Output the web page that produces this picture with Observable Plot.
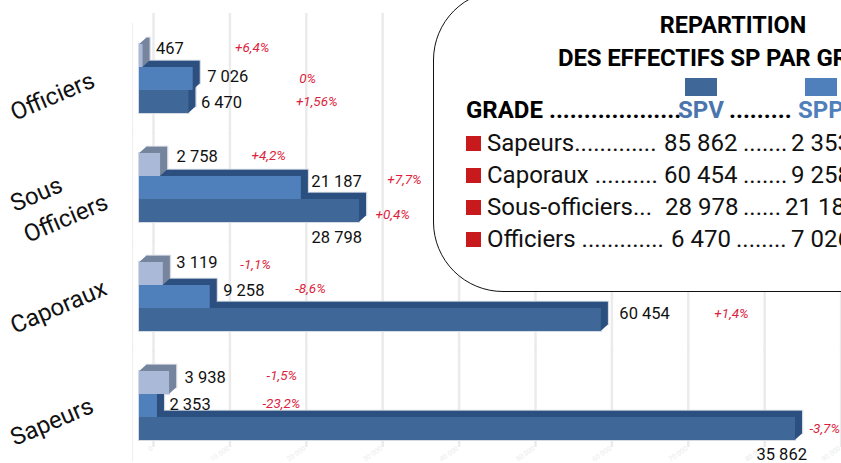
<!DOCTYPE html>
<html lang="fr"><head><meta charset="utf-8">
<script src="https://cdn.jsdelivr.net/npm/d3@7"></script>
<script src="https://cdn.jsdelivr.net/npm/@observablehq/plot@0.6"></script>
<style>
html,body{margin:0;padding:0;background:#fff;overflow:hidden;width:841px;height:463px}
#wrap{position:relative;width:841px;height:463px;overflow:hidden;font-family:Roboto,sans-serif}
#wrap svg{position:absolute;left:0;top:0}
#panel{position:absolute;left:433px;top:-10px;width:600px;height:300px;border:1.5px solid #111;border-radius:70px;background:#fff}
.t{position:absolute;white-space:pre;line-height:1}
.row{font-size:24px;color:#111}
.sq{position:absolute}
</style></head><body><div id="wrap"></div>
<script>
// ---- data ----
const categories = ["Officiers", "Sous Officiers", "Caporaux", "Sapeurs"];
const axisLabels = ["Officiers", "Sous\nOfficiers", "Caporaux", "Sapeurs"];
const seriesNames = ["Autres", "SPP", "SPV"];
const spv = [6470, 28798, 60454, 85862];
const spp = [7026, 21187, 9258, 2353];
const autres = [467, 2758, 3119, 3938];
const spvLabels = ["6 470", "28 798", "60 454", "35 862"];
const sppLabels = ["7 026", "21 187", "9 258", "2 353"];
const autresLabels = ["467", "2 758", "3 119", "3 938"];
const spvDeltas = ["+1,56%", "+0,4%", "+1,4%", "-3,7%"];
const sppDeltas = ["0%", "+7,7%", "-8,6%", "-23,2%"];
const autresDeltas = ["+6,4%", "+4,2%", "-1,1%", "-1,5%"];
const gridTicks = [0, 10000, 20000, 30000, 40000, 50000, 60000, 70000, 80000, 90000];
const titleLines = ["REPARTITION", "DES EFFECTIFS SP PAR GRADE"];
const tableHeader = ["GRADE ...................", "SPV", " ......... ", "SPP"];
const tableNames = ["Sapeurs.............", "Caporaux ..........", "Sous-officiers...", "Officiers ............."];
const tableSpv = ["85 862", "60 454", "28 978", "6 470"];
const tableSep = [".......", ".......", "......", "........"];
const tableSpp = ["2 353", "9 258", "21 187", "7 026"];

// ---- style / layout (kept apart from the data) ----
const colors = {SPV: "#3f6899", SPP: "#4f80bb", Autres: "#a9b9d7"};
const sideColors = {SPV: "#2d5180", SPP: "#2d5180", Autres: "#76859e"};
const red = "#dc1f3e";
const labelNudge = {
  SPV: [[12, 1], [-48, 27], [18, -6], [-39, 26]],
  SPP: [[14, -2], [10, -6], [13, -6], [12, -1]],
  Autres: [[13, -7], [16, -8], [13, -11], [15, -5]]
};
const deltaNudge = {
  SPV: [[107, 0], [16, 4], [113, -6], [14, 0]],
  SPP: [[106, 0], [86, -8], [85, -8], [105, -2]],
  Autres: [[92, -8], [91, -9], [77, -9], [97, -7]]
};
const axisNudge = [[5, 20], [5, 2], [5, 15], [5, 18]];
const colSpv = [664, 664, 665, 671];
const colSep = [743, 743, 743, 736];
const colSpp = [791, 791, 785, 791];

const valuesBy = {SPV: spv, SPP: spp, Autres: autres};
const labelsBy = {SPV: spvLabels, SPP: sppLabels, Autres: autresLabels};
const deltasBy = {SPV: spvDeltas, SPP: sppDeltas, Autres: autresDeltas};
const rows = seriesNames.flatMap(s => categories.map((c, i) => ({cat: c, i, s, v: valuesBy[s][i], label: labelsBy[s][i], delta: deltasBy[s][i]})));

const marks = [];
const gridSpan = [[-30, -20], [-20, -20], [-20, -20], [-20, -6]];
categories.forEach((c, i) => {
  marks.push(Plot.ruleX(gridTicks, {x: d => d, fy: () => c, dx: 14, stroke: "#ebebeb", strokeWidth: 2.5, insetTop: gridSpan[i][0], insetBottom: gridSpan[i][1]}));
  marks.push(Plot.ruleX([-900], {x: d => d, fy: () => c, stroke: "#eeeeee", strokeWidth: 1, insetTop: -20, insetBottom: -20}));
});
marks.push(Plot.text(gridTicks, {x: d => d, fy: () => "Sapeurs", frameAnchor: "bottom", text: d => d3.format(",")(d).replace(",", " "), dx: 14, dy: 8, rotate: -35, textAnchor: "end", fontSize: 7, fill: "#ececec"}));

// soft outline behind all bars
for (const s of ["SPV", "SPP", "Autres"]) {
  const data = rows.filter(d => d.s === s);
  marks.push(Plot.barX(data, {x: "v", y: "s", fy: "cat", dx: 7.5, dy: -6.5, fill: "none", stroke: "#d5dae3", strokeWidth: 1.5}));
  marks.push(Plot.barX(data, {x: "v", y: "s", fy: "cat", fill: "none", stroke: "#d5dae3", strokeWidth: 2}));
}
// 3D bars, painted from bottom to top of each group
for (const s of ["SPV", "SPP", "Autres"]) {
  const data = rows.filter(d => d.s === s);
  for (let k = 14; k >= 1; k--) {
    marks.push(Plot.barX(data, {x: "v", y: "s", fy: "cat", dx: k * 0.5, dy: -k * 0.45, fill: sideColors[s]}));
  }
  marks.push(Plot.barX(data, {x: "v", y: "s", fy: "cat", fill: colors[s]}));
}
rows.forEach(d => {
  const [dx, dy] = labelNudge[d.s][d.i];
  marks.push(Plot.text([d], {x: "v", y: "s", fy: "cat", text: "label", dx, dy, textAnchor: "start", fontSize: 16.5, fill: "#111"}));
  const [ddx, ddy] = deltaNudge[d.s][d.i];
  marks.push(Plot.text([d], {x: "v", y: "s", fy: "cat", text: "delta", dx: ddx, dy: ddy, textAnchor: "start", fontSize: 13.5, fontStyle: "italic", fill: red}));
});
categories.forEach((c, i) => {
  marks.push(Plot.text([axisLabels[i]], {fy: () => c, frameAnchor: "left", text: d => d, dx: axisNudge[i][0], dy: axisNudge[i][1], rotate: -23, textAnchor: "start", lineAnchor: "top", lineHeight: 1.4, fontSize: 24, fill: "#111"}));
});

const chart = Plot.plot({
  width: 841, height: 463,
  marginTop: 42, marginBottom: 22, marginLeft: 0, marginRight: 0,
  x: {domain: [0, 90000], range: [139, 826.6], axis: null},
  y: {domain: seriesNames, padding: 0, axis: null},
  fy: {domain: categories, paddingInner: 0.353, paddingOuter: 0, axis: null},
  style: {fontFamily: "Roboto, sans-serif", background: "transparent"},
  marks
});
const wrap = document.getElementById("wrap");
wrap.appendChild(chart);

const add = (cls, css, txt) => { const e = document.createElement("div"); e.className = cls; e.style.cssText = css; if (txt != null) e.textContent = txt; wrap.appendChild(e); return e; };
add("", "", null).id = "panel";
add("t", "left:733px;top:14px;transform:translateX(-50%);font-weight:700;font-size:23.4px;color:#000", titleLines[0]);
add("t", "left:558px;top:45.5px;font-weight:700;font-size:24px;letter-spacing:-0.15px;color:#000", titleLines[1]);
add("sq", `left:685px;top:78px;width:32px;height:18px;background:${colors.SPV}`);
add("sq", `left:805px;top:78px;width:32px;height:18px;background:${colors.SPP}`);
add("t", "left:466px;top:98px;font-size:24px;font-weight:700;color:#000", tableHeader[0]);
add("t", "left:678px;top:98px;font-size:24px;font-weight:700;color:#4a75ad", tableHeader[1]);
add("t", "left:723px;top:98px;font-size:24px;font-weight:700;color:#000", tableHeader[2]);
add("t", "left:798px;top:98px;font-size:24px;font-weight:700;color:#4f80bb", tableHeader[3]);
tableNames.forEach((t, i) => {
  const top = 131 + i * 32;
  add("sq", `left:466px;top:${136 + i * 32}px;width:15px;height:15px;background:#c8191d`);
  add("t row", `left:487px;top:${top}px`, t);
  add("t row", `left:${colSpv[i]}px;top:${top}px`, tableSpv[i]);
  add("t row", `left:${colSep[i]}px;top:${top}px`, tableSep[i]);
  add("t row", `left:${colSpp[i]}px;top:${top}px`, tableSpp[i]);
});
</script></body></html>
